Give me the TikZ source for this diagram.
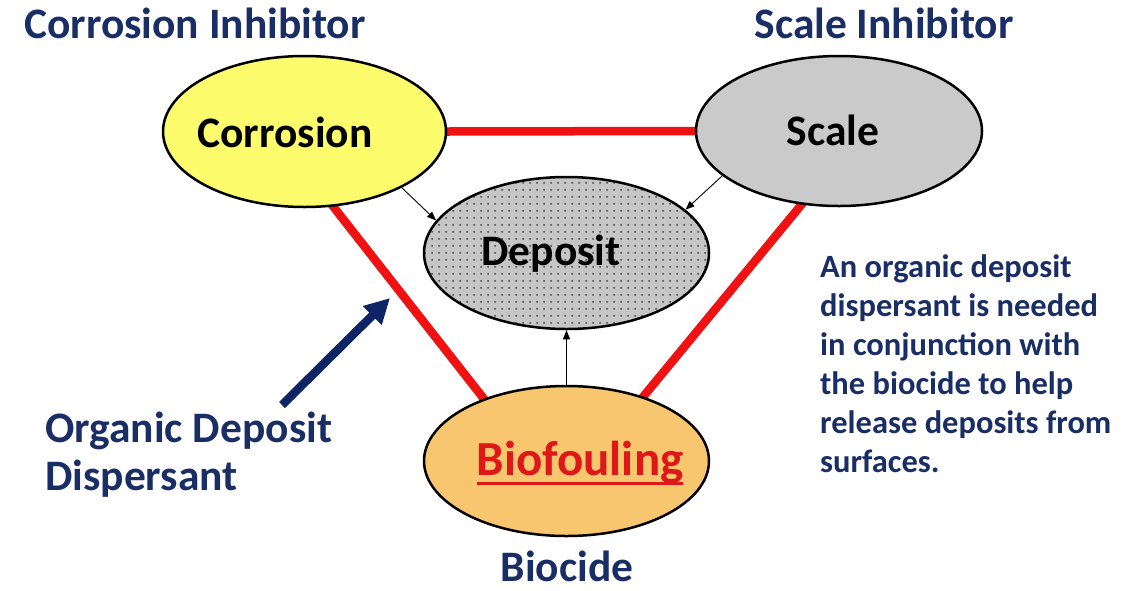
\documentclass[tikz,border=0pt]{standalone}
\usepackage{fontspec}
\setmainfont{Carlito}
\usetikzlibrary{shapes.geometric,arrows.meta,backgrounds,patterns.meta}

\definecolor{navytext}{RGB}{26,46,102}
\definecolor{navyarrow}{RGB}{14,36,100}
\definecolor{linkred}{RGB}{240,18,18}
\definecolor{biored}{RGB}{222,24,24}
\definecolor{corrfill}{RGB}{252,252,108}
\definecolor{scalefill}{RGB}{202,202,202}
\definecolor{depfill}{RGB}{198,198,198}
\definecolor{depdot}{RGB}{85,85,85}
\definecolor{biofill}{RGB}{249,198,112}

% fine stipple for the deposit ellipse
\tikzdeclarepattern{
  name=stipple,
  type=uncolored,
  bottom left={(0pt,0pt)},
  top right={(6.6pt,6.6pt)},
  tile size={(6.6pt,6.6pt)},
  code={\fill (3.3pt,3.3pt) circle (1.1pt);}
}

% red underline that sits through the descenders
\newcommand\redul[1]{\setbox0=\hbox{#1}\rlap{\rule[-9.5pt]{\wd0}{3pt}}\box0}

\begin{document}
\begin{tikzpicture}[x=1pt,y=-1pt,
  blob/.style={ellipse, draw=black, line width=2.5pt, inner sep=0pt},
  title/.style={inner sep=0pt, text=navytext, font=\bfseries\fontsize{43.5}{48}\selectfont},
  inlbl/.style={inner sep=0pt, text=black, font=\bfseries\fontsize{43.5}{48}\selectfont},
  biolbl/.style={inner sep=0pt, text=biored, font=\bfseries\fontsize{49}{54}\selectfont},
  note/.style={inner sep=0pt, text=navytext, align=left, font=\bfseries\fontsize{32.5}{39}\selectfont},
  redlink/.style={draw=linkred, line width=8.5pt, shorten <=-8pt, shorten >=-8pt},
  feed/.style={draw=black, line width=0.9pt, -{Triangle[length=9pt,width=7pt]}},
  pointer/.style={draw=navyarrow, line width=8.5pt, -{Triangle[length=25pt,width=25pt]}}
]
\useasboundingbox (0,0) rectangle (1143,590);

% the four ellipses
\node[blob, fill=corrfill, minimum width=283pt, minimum height=151pt] (corr) at (304.5,131.5) {};
\node[blob, fill=scalefill, minimum width=286pt, minimum height=150pt] (scale) at (839,131) {};
\node[blob, preaction={fill=depfill}, pattern={stipple}, pattern color=depdot,
      minimum width=285pt, minimum height=152pt] (dep) at (566.5,253) {};
\node[blob, fill=biofill, minimum width=285pt, minimum height=150pt] (bio) at (566.5,461) {};

% labels inside the ellipses
\node[inlbl, anchor=base] (lcorr) at (285,147) {Corrosion};
\node[inlbl, anchor=base] (lscale) at (833,145) {Scale};
\node[inlbl, anchor=base] (ldep) at (551,265) {Deposit};
\node[biolbl, anchor=base] (lbio) at (580,475) {\redul{Biofouling}};

% treatment labels
\node[title, anchor=base] (tcorr) at (195,38) {Corrosion Inhibitor};
\node[title, anchor=base] (tscale) at (884,38) {Scale Inhibitor};
\node[title, anchor=base] (tbio) at (567,581) {Biocide};
\node[title, anchor=base west, align=left] (tdisp) at (45,490) {Organic Deposit\\Dispersant};

\node[note, anchor=base west] (note) at (820,472)
  {An organic deposit\\dispersant is needed\\in conjunction with\\the biocide to help\\release deposits from\\surfaces.};

% red triangle linking the three problems
\begin{scope}[on background layer]
  \draw[redlink] (corr.east) -- (scale.west);
  \draw[redlink] (corr.-69) -- (bio.143);
  \draw[redlink] (scale.-117) -- (bio.40);
\end{scope}

% thin arrows feeding the deposit
\draw[feed] (corr.-30) -- (dep.166);
\draw[feed] (scale.-159) -- (dep.20);
\draw[feed] (bio.north) -- (dep.south);

% dispersant pointer
\coordinate (ptail) at (282,405);
\coordinate (ptip) at (390,298);
\draw[pointer] (ptail) -- (ptip);
\end{tikzpicture}
\end{document}
